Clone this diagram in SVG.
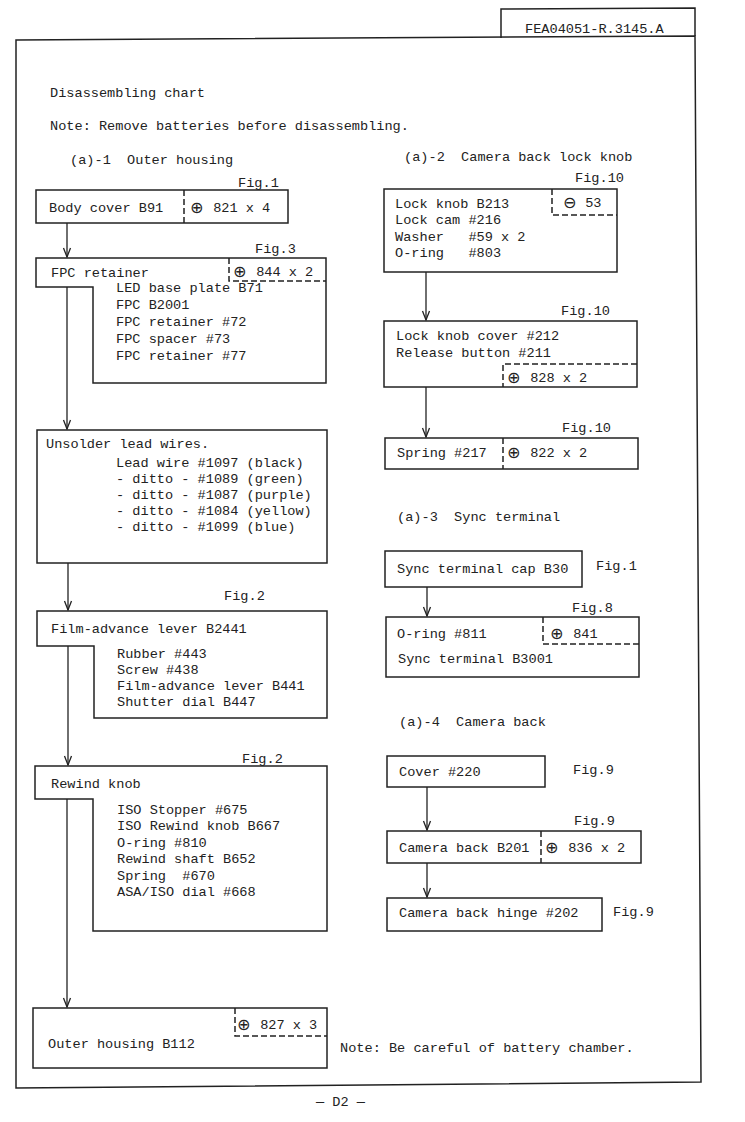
<svg xmlns="http://www.w3.org/2000/svg" width="745" height="1122" viewBox="0 0 745 1122" xml:space="preserve">
<defs>
<style>
text{font-family:"Liberation Mono","DejaVu Sans Mono",monospace;font-size:13.6px;fill:#222;white-space:pre}
.sym{font-family:"DejaVu Sans",sans-serif;font-size:16px}
.box{fill:none;stroke:#222;stroke-width:1.5}
.dash{fill:none;stroke:#222;stroke-width:1.5;stroke-dasharray:6 3}
.conn{fill:none;stroke:#222;stroke-width:1.3}
</style>
<marker id="arr" viewBox="-10 -5 11 10" refX="0" refY="0" markerWidth="11" markerHeight="10" markerUnits="userSpaceOnUse" orient="auto">
<path d="M-9,-3.5 L0,0 L-9,3.5" fill="none" stroke="#222" stroke-width="1.3"/>
</marker>
</defs>
<rect width="745" height="1122" fill="#fff"/>
<g id="frame">
<polygon class="box" points="16,40 695,36 701,1082 16,1088" stroke-width="1.8"/>
<polyline class="box" points="501,38 501,9 695,8 695,36"/>
<text x="525" y="33">FEA04051-R.3145.A</text>
<text x="50" y="97">Disassembling chart</text>
<text x="50" y="130">Note: Remove batteries before disassembling.</text>
<text x="70" y="164">(a)-1  Outer housing</text>
<text x="404" y="161">(a)-2  Camera back lock knob</text>
<text x="397" y="521">(a)-3  Sync terminal</text>
<text x="399" y="726">(a)-4  Camera back</text>
<text x="340" y="1052">Note: Be careful of battery chamber.</text>
<text x="316" y="1106">— D2 —</text>
</g>
<g id="connectors">
<line class="conn" x1="67" y1="223" x2="67" y2="257" marker-end="url(#arr)"/>
<line class="conn" x1="67" y1="287" x2="67" y2="429" marker-end="url(#arr)"/>
<line class="conn" x1="68" y1="563" x2="68" y2="610" marker-end="url(#arr)"/>
<line class="conn" x1="68" y1="646" x2="68" y2="765" marker-end="url(#arr)"/>
<line class="conn" x1="67" y1="799" x2="67" y2="1007" marker-end="url(#arr)"/>
<line class="conn" x1="426" y1="272" x2="426" y2="320" marker-end="url(#arr)"/>
<line class="conn" x1="426" y1="387" x2="426" y2="437" marker-end="url(#arr)"/>
<line class="conn" x1="427" y1="587" x2="427" y2="616" marker-end="url(#arr)"/>
<line class="conn" x1="427" y1="787" x2="427" y2="830" marker-end="url(#arr)"/>
<line class="conn" x1="427" y1="863" x2="427" y2="897" marker-end="url(#arr)"/>
</g>
<g id="body-cover">
<rect class="box" x="36" y="190" width="252" height="33"/>
<line class="dash" x1="184" y1="190" x2="184" y2="223" stroke-dasharray="4 3"/>
<text x="238" y="187">Fig.1</text>
<text x="49" y="212">Body cover B91</text>
<text><tspan class="sym" x="190" y="213">⊕</tspan><tspan x="205" y="212"> 821 x 4</tspan></text>
</g>
<g id="fpc-retainer">
<path class="box" d="M36,258 H326 V383 H93 V287 H36 Z"/>
<polyline class="dash" points="229,258 229,281 326,281"/>
<text x="255" y="253">Fig.3</text>
<text x="51" y="277">FPC retainer</text>
<text><tspan class="sym" x="233" y="277">⊕</tspan><tspan x="248" y="276"> 844 x 2</tspan></text>
<text x="116" y="292">LED base plate B71</text>
<text x="116" y="309">FPC B2001</text>
<text x="116" y="326">FPC retainer #72</text>
<text x="116" y="343">FPC spacer #73</text>
<text x="116" y="360">FPC retainer #77</text>
</g>
<g id="unsolder">
<rect class="box" x="37" y="430" width="290" height="133"/>
<text x="46" y="448">Unsolder lead wires.</text>
<text x="116" y="467">Lead wire #1097 (black)</text>
<text x="116" y="483">- ditto - #1089 (green)</text>
<text x="116" y="499">- ditto - #1087 (purple)</text>
<text x="116" y="515">- ditto - #1084 (yellow)</text>
<text x="116" y="531">- ditto - #1099 (blue)</text>
</g>
<g id="film-advance">
<path class="box" d="M37,611 H327 V718 H94 V646 H37 Z"/>
<text x="224" y="600">Fig.2</text>
<text x="51" y="633">Film-advance lever B2441</text>
<text x="117" y="658">Rubber #443</text>
<text x="117" y="674">Screw #438</text>
<text x="117" y="690">Film-advance lever B441</text>
<text x="117" y="706">Shutter dial B447</text>
</g>
<g id="rewind-knob">
<path class="box" d="M35,766 H327 V931 H93 V799 H35 Z"/>
<text x="242" y="763">Fig.2</text>
<text x="51" y="788">Rewind knob</text>
<text x="117" y="814">ISO Stopper #675</text>
<text x="117" y="830">ISO Rewind knob B667</text>
<text x="117" y="847">O-ring #810</text>
<text x="117" y="863">Rewind shaft B652</text>
<text x="117" y="880">Spring  #670</text>
<text x="117" y="896">ASA/ISO dial #668</text>
</g>
<g id="outer-housing">
<rect class="box" x="33" y="1008" width="294" height="60"/>
<polyline class="dash" points="235,1008 235,1036 327,1036"/>
<text><tspan class="sym" x="237" y="1030">⊕</tspan><tspan x="252" y="1029"> 827 x 3</tspan></text>
<text x="48" y="1048">Outer housing B112</text>
</g>
<g id="lock-knob">
<rect class="box" x="384" y="189" width="233" height="83"/>
<polyline class="dash" points="552,189 552,215 617,215"/>
<text x="575" y="182">Fig.10</text>
<text><tspan class="sym" x="563" y="208">⊖</tspan><tspan x="577" y="207"> 53</tspan></text>
<text x="395" y="208">Lock knob B213</text>
<text x="395" y="224">Lock cam #216</text>
<text x="395" y="241">Washer   #59 x 2</text>
<text x="395" y="257">O-ring   #803</text>
</g>
<g id="lock-knob-cover">
<rect class="box" x="384" y="321" width="253" height="66"/>
<polyline class="dash" points="637,364 503,364 503,387"/>
<text x="561" y="315">Fig.10</text>
<text x="396" y="340">Lock knob cover #212</text>
<text x="396" y="357">Release button #211</text>
<text><tspan class="sym" x="507" y="383">⊕</tspan><tspan x="522" y="382"> 828 x 2</tspan></text>
</g>
<g id="spring">
<rect class="box" x="385" y="438" width="253" height="31"/>
<line class="dash" x1="503" y1="438" x2="503" y2="469" stroke-dasharray="4 3"/>
<text x="562" y="432">Fig.10</text>
<text x="397" y="457">Spring #217</text>
<text><tspan class="sym" x="507" y="458">⊕</tspan><tspan x="522" y="457"> 822 x 2</tspan></text>
</g>
<g id="sync-cap">
<rect class="box" x="385" y="551" width="197" height="36"/>
<text x="397" y="573">Sync terminal cap B30</text>
<text x="596" y="570">Fig.1</text>
</g>
<g id="sync-terminal">
<rect class="box" x="386" y="617" width="253" height="60"/>
<polyline class="dash" points="543,617 543,644 639,644"/>
<text x="572" y="612">Fig.8</text>
<text x="397" y="638">O-ring #811</text>
<text><tspan class="sym" x="550" y="639">⊕</tspan><tspan x="565" y="638"> 841</tspan></text>
<text x="398" y="663">Sync terminal B3001</text>
</g>
<g id="cover-220">
<rect class="box" x="387" y="756" width="158" height="31"/>
<text x="399" y="776">Cover #220</text>
<text x="573" y="774">Fig.9</text>
</g>
<g id="camera-back">
<rect class="box" x="387" y="831" width="254" height="32"/>
<line class="dash" x1="541" y1="831" x2="541" y2="863" stroke-dasharray="4 3"/>
<text x="574" y="825">Fig.9</text>
<text x="399" y="852">Camera back B201</text>
<text><tspan class="sym" x="545" y="853">⊕</tspan><tspan x="560" y="852"> 836 x 2</tspan></text>
</g>
<g id="camera-back-hinge">
<rect class="box" x="387" y="898" width="215" height="33"/>
<text x="399" y="917">Camera back hinge #202</text>
<text x="613" y="916">Fig.9</text>
</g>
</svg>
